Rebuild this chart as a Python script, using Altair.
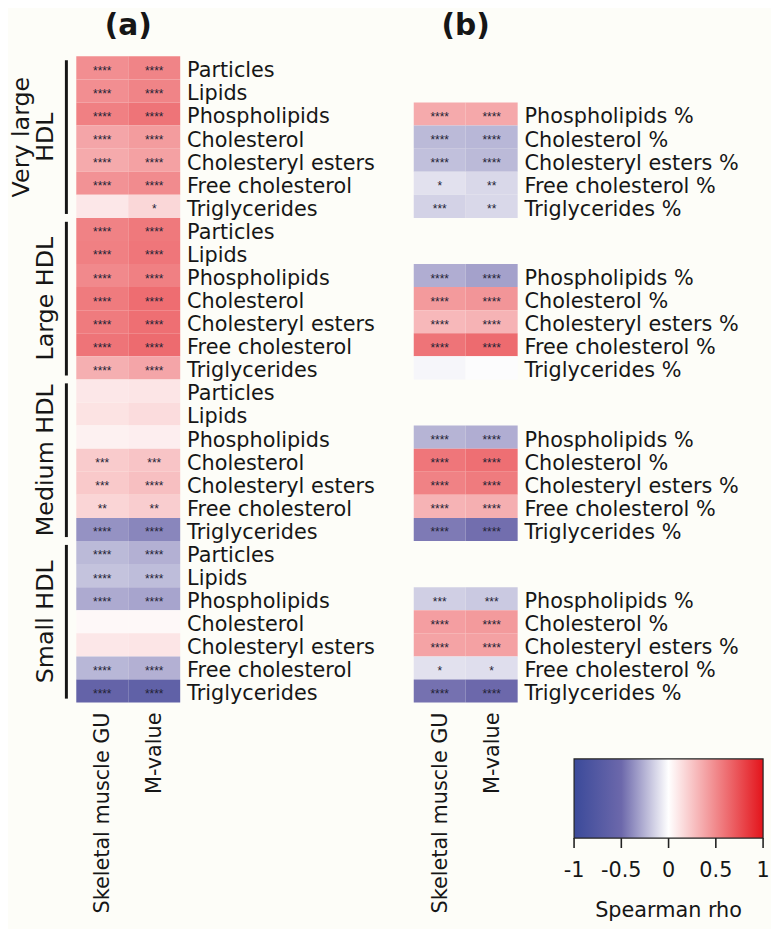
import altair as alt
import pandas as pd

# ---------------- data ----------------
groups = ["Very large HDL", "Large HDL", "Medium HDL", "Small HDL"]
group_lines = [["Very large", "HDL"], ["Large HDL"], ["Medium HDL"], ["Small HDL"]]
measures = ["Particles", "Lipids", "Phospholipids", "Cholesterol",
            "Cholesteryl esters", "Free cholesterol", "Triglycerides"]
measures_pct = ["Phospholipids", "Cholesterol", "Cholesteryl esters",
                "Free cholesterol", "Triglycerides"]
columns = ["Skeletal muscle GU", "M-value"]
panel_titles = ["(a)", "(b)"]

# panel (a): 4 groups x 7 measures
rho_a_gu = [0.48, 0.48, 0.54, 0.38, 0.36, 0.46, 0.10,
            0.53, 0.54, 0.50, 0.56, 0.56, 0.59, 0.34,
            0.10, 0.12, 0.06, 0.22, 0.23, 0.18, -0.36,
            -0.23, -0.20, -0.28, 0.03, 0.10, -0.24, -0.58]
rho_a_m = [0.52, 0.52, 0.59, 0.42, 0.40, 0.49, 0.17,
           0.57, 0.58, 0.54, 0.62, 0.61, 0.63, 0.38,
           0.11, 0.15, 0.07, 0.25, 0.27, 0.21, -0.40,
           -0.26, -0.22, -0.30, 0.03, 0.11, -0.26, -0.62]
stars_a_gu = ["****", "****", "****", "****", "****", "****", "",
              "****", "****", "****", "****", "****", "****", "****",
              "", "", "", "***", "***", "**", "****",
              "****", "****", "****", "", "", "****", "****"]
stars_a_m = ["****", "****", "****", "****", "****", "****", "*",
             "****", "****", "****", "****", "****", "****", "****",
             "", "", "", "***", "****", "**", "****",
             "****", "****", "****", "", "", "****", "****"]

# panel (b): 4 groups x 5 percentage measures
rho_b_gu = [0.36, -0.23, -0.21, -0.10, -0.15,
            -0.27, 0.43, 0.30, 0.59, -0.03,
            -0.25, 0.58, 0.53, 0.32, -0.44,
            -0.16, 0.41, 0.39, -0.10, -0.47]
rho_b_m = [0.37, -0.24, -0.23, -0.13, -0.13,
           -0.31, 0.45, 0.32, 0.63, -0.01,
           -0.27, 0.61, 0.56, 0.34, -0.48,
           -0.18, 0.43, 0.40, -0.11, -0.50]
stars_b_gu = ["****", "****", "****", "*", "***",
              "****", "****", "****", "****", "",
              "****", "****", "****", "****", "****",
              "***", "****", "****", "*", "****"]
stars_b_m = ["****", "****", "****", "**", "**",
             "****", "****", "****", "****", "",
             "****", "****", "****", "****", "****",
             "***", "****", "****", "*", "****"]

legend_ticks = [-1, -0.5, 0, 0.5, 1]
legend_tick_labels = ["-1", "-0.5", "0", "0.5", "1"]
legend_title = "Spearman rho"

palette_domain = [-1, -0.5, 0, 0.5, 1]
palette = ["#3B4A9A", "#6C68AB", "#FFFFFF", "#F1898C", "#E3141B"]

# ---------------- layout (pixels) ----------------
W, H = 771, 921
A_X = [69, 174]
B_X = [410, 515]
ROWS_Y = [44, 697]
CB_X = [572, 763]
CB_Y = [754, 834]
FONT = "DejaVu Sans"
INK = "#161616"

row_keys = [f"{g}|{m}" for g in groups for m in measures]
n_per_group = len(measures)


def cells(rho_gu, rho_m, st_gu, st_m, meas):
    recs = []
    i = 0
    for g in groups:
        for m in meas:
            key = f"{g}|{m}"
            recs.append(dict(row=key, col=columns[0], rho=rho_gu[i], stars=st_gu[i]))
            recs.append(dict(row=key, col=columns[1], rho=rho_m[i], stars=st_m[i]))
            i += 1
    return pd.DataFrame(recs)


df_a = cells(rho_a_gu, rho_a_m, stars_a_gu, stars_a_m, measures)
df_b = cells(rho_b_gu, rho_b_m, stars_b_gu, stars_b_m, measures_pct)
lab_a = pd.DataFrame([dict(row=f"{g}|{m}", label=m) for g in groups for m in measures])
lab_b = pd.DataFrame([dict(row=f"{g}|{m}", label=m + " %") for g in groups for m in measures_pct])
cols_df = pd.DataFrame({"col": columns})

grp_recs = []
for i, g in enumerate(groups):
    lines = group_lines[i]
    for j, ln in enumerate(lines):
        grp_recs.append(dict(group=g, start=i * n_per_group, end=(i + 1) * n_per_group,
                             line=ln, from_end=len(lines) - 1 - j))
grp_df = pd.DataFrame(grp_recs)
bars_df = grp_df.drop_duplicates("group")

ticks_df = pd.DataFrame({"t": legend_ticks, "lab": legend_tick_labels})
cb_df = pd.DataFrame({"lo": [min(legend_ticks)], "hi": [max(legend_ticks)], "title": [legend_title]})

# ---------------- scales ----------------
color_scale = alt.Scale(domain=palette_domain, range=palette, interpolate="rgb")


def yrows():
    return alt.Y("row:N", scale=alt.Scale(domain=row_keys, range=ROWS_Y,
                                          paddingInner=0, paddingOuter=0), axis=None)


def xcols(rng, pad=0.0):
    return alt.X("col:N", scale=alt.Scale(domain=columns, range=rng,
                                          paddingInner=0, paddingOuter=pad), axis=None)


def ygroups(field):
    return alt.Y(field, scale=alt.Scale(domain=[0, len(row_keys)], range=ROWS_Y,
                                        nice=False, zero=False), axis=None)


cb_scale = alt.Scale(domain=[min(legend_ticks), max(legend_ticks)], range=CB_X,
                     nice=False, zero=False)

layers = []
for df, lab, rng, lab_x in [(df_a, lab_a, A_X, A_X[1] + 7), (df_b, lab_b, B_X, B_X[1] + 7)]:
    layers.append(alt.Chart(df).mark_rect().encode(
        x=xcols(rng), y=yrows(),
        color=alt.Color("rho:Q", scale=color_scale, legend=None)))
    layers.append(alt.Chart(df).mark_text(font="Liberation Sans", fontSize=12,
                                          baseline="alphabetic", dy=7, color="#222233").encode(
        x=xcols(rng), y=yrows(), text="stars:N"))
    layers.append(alt.Chart(lab).mark_text(font=FONT, fontSize=21, align="left",
                                           baseline="alphabetic", dy=9.5, color=INK).encode(
        x=alt.value(lab_x), y=yrows(), text="label:N"))
    layers.append(alt.Chart(cols_df).mark_text(font=FONT, fontSize=21, angle=270, align="right",
                                               baseline="middle", dy=1, color=INK).encode(
        x=xcols(rng, 0.08), y=alt.value(ROWS_Y[1] + 10), text="col:N"))

# panel titles
for t, rng in zip(panel_titles, [A_X, B_X]):
    layers.append(alt.Chart(pd.DataFrame({"t": [t]})).mark_text(
        font=FONT, fontSize=30, fontWeight="bold", baseline="alphabetic", color=INK).encode(
        x=alt.value((rng[0] + rng[1]) / 2), y=alt.value(22), text="t:N"))

# group bars
layers.append(alt.Chart(bars_df).transform_calculate(
    y0="datum.start + 0.17", y1="datum.end - 0.17").mark_rule(
    strokeWidth=3, color=INK).encode(
    x=alt.value(59), y=ygroups("y0:Q"), y2="y1:Q"))

# group labels (last line nearest the bar, previous line further left)
for k, xpos in [(0, 45), (1, 21)]:
    layers.append(alt.Chart(grp_df).transform_filter(f"datum.from_end == {k}").transform_calculate(
        mid="(datum.start + datum.end) / 2").mark_text(
        font=FONT, fontSize=24, angle=270, align="center", baseline="alphabetic", color=INK).encode(
        x=alt.value(xpos), y=ygroups("mid:Q"), text="line:N"))

# colour bar
stops = [alt.GradientStop(offset=(d - palette_domain[0]) / (palette_domain[-1] - palette_domain[0]), color=c)
         for d, c in zip(palette_domain, palette)]
layers.append(alt.Chart(cb_df).mark_rect(
    fill=alt.Gradient(gradient="linear", stops=stops, x1=0, x2=1, y1=0, y2=0),
    stroke="#222222", strokeWidth=1.2).encode(
    x=alt.X("lo:Q", scale=cb_scale, axis=None), x2="hi:Q",
    y=alt.value(CB_Y[0]), y2=alt.value(CB_Y[1])))
layers.append(alt.Chart(ticks_df).mark_rule(strokeWidth=1.6, color="#222222").encode(
    x=alt.X("t:Q", scale=cb_scale, axis=None),
    y=alt.value(CB_Y[1]), y2=alt.value(CB_Y[1] + 10)))
layers.append(alt.Chart(ticks_df).mark_text(font=FONT, fontSize=21, baseline="alphabetic",
                                            color=INK).encode(
    x=alt.X("t:Q", scale=cb_scale, axis=None), y=alt.value(CB_Y[1] + 39), text="lab:N"))
layers.append(alt.Chart(cb_df).transform_calculate(mid="(datum.lo + datum.hi) / 2").mark_text(
    font=FONT, fontSize=21, baseline="alphabetic", color=INK).encode(
    x=alt.X("mid:Q", scale=cb_scale, axis=None), y=alt.value(CB_Y[1] + 80), text="title:N"))

chart = alt.layer(*layers).resolve_scale(
    x="independent", y="independent", color="independent"
).properties(
    width=W, height=H, padding=0,
    autosize=alt.AutoSizeParams(type="none"),
    background="#FDFDF8",
).configure_view(stroke=None)

chart.save("out.html", embed_options={"renderer": "svg", "actions": False})
